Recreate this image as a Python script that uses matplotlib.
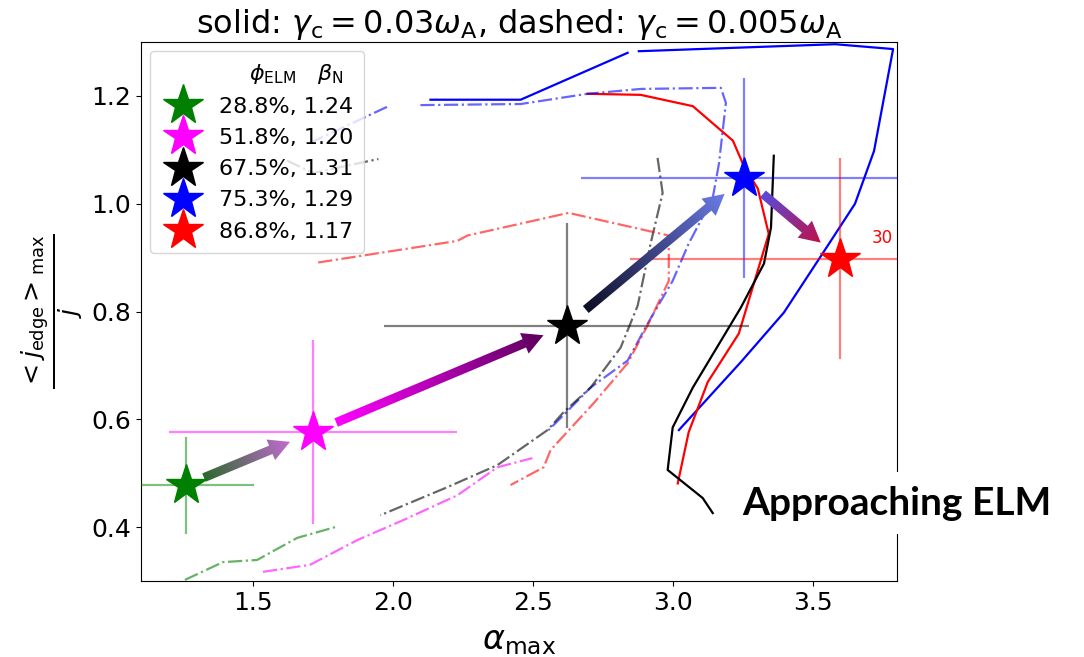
import numpy as np
import matplotlib
matplotlib.use('Agg')
import matplotlib.pyplot as plt
from matplotlib.patches import FancyArrowPatch
from matplotlib.colors import to_rgba

nan = np.nan

# stars: alpha_max, j_edge ratio, error bars
star_x = [1.261, 1.715, 2.620, 3.253, 3.596]
star_y = [0.478, 0.576, 0.774, 1.048, 0.898]
star_xerr = [0.243, 0.514, 0.653, 0.583, 0.751]
star_yerr = [0.090, 0.171, 0.190, 0.186, 0.186]
star_colors = ['green', 'magenta', 'black', 'blue', 'red']
star_labels = ['28.8%, 1.24', '51.8%, 1.20', '67.5%, 1.31', '75.3%, 1.29', '86.8%, 1.17']

# solid lines (gamma_c = 0.03 omega_A)
blue_solid_x = [2.134, 2.456, 2.838, nan, 2.878, 3.579, 3.786, 3.718, 3.650, 3.536, 3.396, 3.242, 3.021]
blue_solid_y = [1.193, 1.193, 1.280, nan, 1.283, 1.296, 1.287, 1.098, 1.000, 0.909, 0.798, 0.706, 0.580]
red_solid_x = [2.695, 2.885, 3.071, 3.214, 3.253, 3.303, 3.342, 3.235, 3.124, 3.056, 3.017]
red_solid_y = [1.204, 1.202, 1.181, 1.117, 1.070, 1.028, 0.944, 0.759, 0.669, 0.576, 0.481]
black_solid_x = [3.360, 3.350, 3.325, 3.242, 3.071, 2.999, 2.981, 3.106, 3.142]
black_solid_y = [1.089, 0.956, 0.889, 0.807, 0.659, 0.585, 0.506, 0.454, 0.426]

# dash-dot lines (gamma_c = 0.005 omega_A)
blue_dash_x = [1.704, 1.980, nan, 2.098, 2.456, 2.695, 2.885, 3.171, 3.189, 3.164, 3.142, 3.056,
               2.999, 2.910, 2.838, 2.706, 2.556]
blue_dash_y = [1.113, 1.180, nan, 1.183, 1.185, 1.204, 1.213, 1.215, 1.187, 1.074, 1.011, 0.926,
               0.857, 0.778, 0.709, 0.659, 0.580]
black_dash_x = [1.622, 1.715, 1.948, nan, 2.945, 2.963, 2.920, 2.874, 2.813, 2.706, 2.609, 2.552,
                2.373, 2.194, 1.955]
black_dash_y = [1.080, 1.057, 1.083, nan, 1.085, 1.020, 0.926, 0.811, 0.733, 0.659, 0.613, 0.580,
                0.515, 0.474, 0.422]
red_dash_x = [1.733, 2.230, 2.266, 2.627, 2.985, 2.985, 2.913, 2.838, 2.717, 2.563, 2.538, 2.420]
red_dash_y = [0.891, 0.931, 0.941, 0.983, 0.941, 0.857, 0.778, 0.704, 0.630, 0.543, 0.511, 0.478]
magenta_dash_x = [1.536, 1.704, 1.873, 2.037, 2.230, 2.373, 2.498]
magenta_dash_y = [0.317, 0.330, 0.376, 0.413, 0.459, 0.511, 0.528]
green_dash_x = [1.257, 1.393, 1.515, 1.658, 1.794]
green_dash_y = [0.302, 0.335, 0.339, 0.380, 0.400]

# arrow gradient colours (start, end)
arrow_colors = [('#2c6a2c', '#c46ad2'), ('#ff00ff', '#5c005c'),
                ('#0e0e26', '#6c7ce6'), ('#5a4ad8', '#c01048')]


def gradient_arrow(ax, p0, p1, c0, c1, shrinkA=18, shrinkB=18):
    arrow = FancyArrowPatch(p0, p1, arrowstyle='simple,head_length=15,head_width=16,tail_width=6.5',
                            mutation_scale=1, shrinkA=shrinkA, shrinkB=shrinkB,
                            fc='none', ec='none', zorder=4)
    ax.add_patch(arrow)
    P0 = ax.transData.transform(p0)
    P1 = ax.transData.transform(p1)
    d = P1 - P0
    u = d / np.hypot(*d)
    k = fig.dpi / 72
    S0 = P0 + u * shrinkA * k
    S1 = P1 - u * shrinkB * k
    x0, x1 = min(p0[0], p1[0]) - 0.15, max(p0[0], p1[0]) + 0.15
    y0, y1 = min(p0[1], p1[1]) - 0.15, max(p0[1], p1[1]) + 0.15
    gx, gy = np.meshgrid(np.linspace(x0, x1, 300), np.linspace(y0, y1, 300))
    pts = ax.transData.transform(np.column_stack([gx.ravel(), gy.ravel()]))
    t = ((pts - S0) @ (S1 - S0)) / np.sum((S1 - S0) ** 2)
    t = np.clip(t, 0, 1).reshape(gx.shape)
    a = np.array(to_rgba(c0))
    b = np.array(to_rgba(c1))
    img = a[None, None, :] * (1 - t[..., None]) + b[None, None, :] * t[..., None]
    im = ax.imshow(img, extent=[x0, x1, y0, y1], origin='lower', aspect='auto',
                   interpolation='bilinear', zorder=4)
    im.set_clip_path(arrow)


fig = plt.figure(figsize=(10.84, 6.57), dpi=100)
ax = fig.add_axes([0.130, 0.1157, 0.6975, 0.8203])
ax.set_xlim(1.1, 3.8)
ax.set_ylim(0.3, 1.3)

lw = 1.6
ax.plot(blue_solid_x, blue_solid_y, color='blue', lw=lw)
ax.plot(red_solid_x, red_solid_y, color='red', lw=lw)
ax.plot(black_solid_x, black_solid_y, color='black', lw=lw)
ax.plot(blue_dash_x, blue_dash_y, color='blue', ls='-.', lw=lw, alpha=0.6)
ax.plot(black_dash_x, black_dash_y, color='black', ls='-.', lw=lw, alpha=0.6)
ax.plot(red_dash_x, red_dash_y, color='red', ls='-.', lw=lw, alpha=0.6)
ax.plot(magenta_dash_x, magenta_dash_y, color='magenta', ls='-.', lw=lw, alpha=0.6)
ax.plot(green_dash_x, green_dash_y, color='green', ls='-.', lw=lw, alpha=0.6)

for i in range(len(star_x)):
    ax.errorbar(star_x[i], star_y[i], xerr=star_xerr[i], yerr=star_yerr[i], fmt='none',
                ecolor=star_colors[i], alpha=0.5, lw=1.6, zorder=3)
    ax.plot(star_x[i], star_y[i], marker='*', ms=30, color=star_colors[i], ls='none',
            label=star_labels[i], zorder=5)

for i in range(len(star_x) - 1):
    sa = 14 if i == 0 else 18
    gradient_arrow(ax, (star_x[i], star_y[i]), (star_x[i + 1], star_y[i + 1]),
                   arrow_colors[i][0], arrow_colors[i][1], shrinkA=sa)

ax.annotate('30', xy=(star_x[4], star_y[4]), xytext=(23, 15), textcoords='offset points',
            color='red', fontsize=12, va='center')

ax.set_xlim(1.1, 3.8)
ax.set_ylim(0.3, 1.3)
ax.set_xticks([1.5, 2.0, 2.5, 3.0, 3.5])
ax.set_yticks([0.4, 0.6, 0.8, 1.0, 1.2])
ax.tick_params(labelsize=18)

ax.set_title(r'solid: $\gamma_\mathrm{c}=0.03\omega_\mathrm{A}$, dashed: $\gamma_\mathrm{c}=0.005\omega_\mathrm{A}$',
             fontsize=23, pad=5)
ax.set_xlabel(r'$\alpha_\mathrm{max}$', fontsize=24, labelpad=7)
ax.set_ylabel(r'$\frac{<j_\mathrm{edge}>_\mathrm{max}}{j}$', fontsize=26)

leg = ax.legend(loc='upper left', fontsize=16, labelspacing=0.5, borderaxespad=0.4,
                title=r'$\phi_\mathrm{ELM}$   $\beta_\mathrm{N}$  ', title_fontsize=16,
                alignment='right', handletextpad=0.6, borderpad=0.5)

fig.text(0.685, 0.234, 'Approaching ELM', fontsize=28, fontweight='bold', family='Lato',
         va='center', ha='left',
         bbox=dict(boxstyle='square,pad=0.35', fc='white', ec='none'))

fig.savefig('out.png', dpi=100)
